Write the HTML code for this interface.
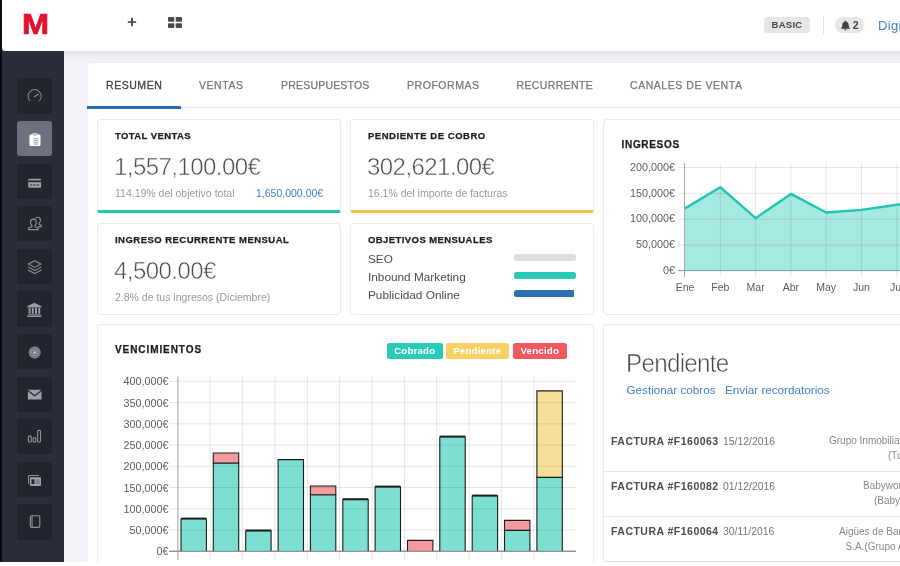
<!DOCTYPE html>
<html lang="es">
<head>
<meta charset="utf-8">
<title>Resumen</title>
<style>
*{box-sizing:border-box;margin:0;padding:0}
html,body{width:900px;height:566px;overflow:hidden;background:#fff}
body{font-family:"Liberation Sans",sans-serif;position:relative;color:#555}
.abs{position:absolute}
#frame{position:absolute;left:0;top:0;width:900px;height:562px;background:#f1f3f8;overflow:hidden}
#edge{position:absolute;left:0;top:0;width:2px;height:562px;background:#0b0c0f}
#side{position:absolute;left:2px;top:0;width:62px;height:562px;background:#292e3a}
.tile{position:absolute;left:14.700px;width:35.300px;height:35.300px;border-radius:3px;background:#21252d}
.tile.on{background:#6c717d}
.tile svg{position:absolute;left:0;top:0;width:35.300px;height:35.300px}
#top{position:absolute;left:2px;top:0;width:898px;height:51px;background:#fff;border-bottom-left-radius:3px}
#shadow{position:absolute;left:64px;top:51px;width:836px;height:8px;background:linear-gradient(#dfe2e9 0,#e6e9ef 35%,#eef0f5 70%,#f1f3f8 100%)}
.pill{position:absolute;background:#e6e6e6;color:#444;font-weight:bold;font-size:9.500px;letter-spacing:.25px;line-height:16px;text-align:center;white-space:nowrap}
#logo{position:absolute;left:19.700px;top:8px;font-weight:bold;font-size:29px;line-height:32px;color:#e2112e;-webkit-text-stroke:.7px #e2112e;transform-origin:0 50%;transform:scaleX(1.12)}
.t{position:absolute;white-space:nowrap;line-height:1}
.h{position:absolute;white-space:nowrap;line-height:1;font-weight:bold;font-size:9.5px;letter-spacing:.45px;color:#1c1c1c;-webkit-text-stroke:.25px #1c1c1c}
#panel{position:absolute;left:87px;top:62px;width:830px;height:520px;background:#fff;border:1px solid #eef0f4;border-radius:4px}
#tabline{position:absolute;left:87px;top:107px;width:813px;height:1px;background:#e6e8ec}
#tabon{position:absolute;left:87px;top:106px;width:94px;height:2.5px;background:#2a6db5}
.tab{position:absolute;top:79.5px;white-space:nowrap;line-height:1;font-size:10.5px;letter-spacing:.55px;color:#777;-webkit-text-stroke:.25px #777}
.tab.on{color:#444;-webkit-text-stroke:.3px #444}
.card{position:absolute;background:#fff;border:1px solid #eaeaec;border-radius:4px}
.big{position:absolute;white-space:nowrap;line-height:1;font-size:24px;color:#4a4a4a;-webkit-text-stroke:.55px #fff;letter-spacing:-.55px}
.sub{position:absolute;white-space:nowrap;line-height:1;font-size:10.5px;color:#999}
.blue{color:#4083c8}
.lg{position:absolute;top:342.700px;height:16px;border-radius:2.500px;color:#fff;font-weight:bold;font-size:9.700px;line-height:16px;text-align:center;white-space:nowrap;letter-spacing:.2px}
.f{position:absolute;left:611px;white-space:nowrap;line-height:1;font-size:10.400px;color:#777;letter-spacing:0}
.f b{color:#4c4c4c;font-size:10.500px;letter-spacing:.48px;margin-right:1.500px}
.r{position:absolute;white-space:nowrap;line-height:1;font-size:10px;color:#888;letter-spacing:0}
</style>
</head>
<body>
<div id="frame">
  <!-- main panel -->
  <div id="panel"></div>
  <div id="tabline"></div>
  <div id="tabon"></div>
  <div class="tab on" style="left:106px">RESUMEN</div>
  <div class="tab" style="left:199px">VENTAS</div>
  <div class="tab" style="left:281px;letter-spacing:.2px">PRESUPUESTOS</div>
  <div class="tab" style="left:407px">PROFORMAS</div>
  <div class="tab" style="left:516.500px;letter-spacing:.36px">RECURRENTE</div>
  <div class="tab" style="left:630px">CANALES DE VENTA</div>

  <!-- card 1 -->
  <div class="card" id="c1" style="left:97px;top:118.500px;width:244px;height:94.500px;border-bottom:3px solid #22c8b3;border-bottom-left-radius:2px;border-bottom-right-radius:2px"></div>
  <!-- card 2 -->
  <div class="card" id="c2" style="left:350px;top:118.500px;width:244px;height:94.500px;border-bottom:3px solid #f5c443;border-bottom-left-radius:2px;border-bottom-right-radius:2px"></div>
  <!-- card 3 -->
  <div class="card" id="c3" style="left:97px;top:222.500px;width:244px;height:92px"></div>
  <!-- card 4 -->
  <div class="card" id="c4" style="left:350px;top:222.500px;width:244px;height:92px"></div>
  <!-- card 5 -->
  <div class="card" id="c5" style="left:603px;top:118.500px;width:310px;height:196px"></div>
  <!-- card 6 -->
  <div class="card" id="c6" style="left:97px;top:324px;width:497px;height:260px"></div>
  <!-- card 7 -->
  <div class="card" id="c7" style="left:603px;top:324px;width:310px;height:237.500px;border-bottom-color:#dedee0"></div>


  <!-- card 1 content -->
  <div class="h" style="left:115px;top:131px;letter-spacing:.41px">TOTAL VENTAS</div>
  <div class="big" style="left:114px;top:155px">1,557,100.00€</div>
  <div class="sub" style="left:115px;top:187.800px">114.19% del objetivo total</div>
  <div class="sub blue" style="left:256px;top:187.800px">1,650,000.00€</div>
  <!-- card 2 content -->
  <div class="h" style="left:368px;top:131px;letter-spacing:.53px">PENDIENTE DE COBRO</div>
  <div class="big" style="left:367px;top:155px">302,621.00€</div>
  <div class="sub" style="left:368px;top:187.800px">16.1% del importe de facturas</div>
  <!-- card 3 content -->
  <div class="h" style="left:115px;top:234.500px;letter-spacing:.47px">INGRESO RECURRENTE MENSUAL</div>
  <div class="big" style="left:114px;top:259px">4,500.00€</div>
  <div class="sub" style="left:115px;top:291.500px">2.8% de tus ingresos (Diciembre)</div>
  <!-- card 4 content -->
  <div class="h" style="left:368px;top:234.500px;letter-spacing:.42px">OBJETIVOS MENSUALES</div>
  <div class="t" style="left:368px;top:253.800px;font-size:11.800px;color:#4d4d4d">SEO</div>
  <div class="t" style="left:368px;top:272px;font-size:11.800px;color:#4d4d4d">Inbound Marketing</div>
  <div class="t" style="left:368px;top:289.500px;font-size:11.800px;color:#4d4d4d">Publicidad Online</div>
  <div class="abs" style="left:514px;top:254px;width:62px;height:7.400px;border-radius:2.500px;background:#dedede"></div>
  <div class="abs" style="left:514px;top:272px;width:62px;height:7.400px;border-radius:2.500px;background:#2bcab6"></div>
  <div class="abs" style="left:514px;top:289.500px;width:60px;height:7.400px;border-radius:2.500px 1px 1px 2.500px;background:#2f6fb3"></div>

  <!-- card 5 content -->
  <svg class="abs" style="left:603px;top:119px" width="297" height="195" viewBox="603 119 297 195" font-family="'Liberation Sans',sans-serif">
    <path d="M684.5 163V277M678 270.5H900" stroke="#a6a6a6" stroke-width="1" fill="none"/>
    <path d="M685.0 208.4 L720.3 187.2 L755.6 218.2 L790.9 193.9 L826.2 212.5 L861.5 209.9 L896.8 204.8 L932.1 198.6 L932.1 271.0 L685.0 271.0Z" fill="#2bcab6" fill-opacity=".42"/>
    <path d="M678 167.5H900 M678 193.4H900 M678 219.2H900 M678 245.1H900 M678 271.0H900 M720.3 163V277 M755.6 163V277 M790.9 163V277 M826.2 163V277 M861.5 163V277 M896.8 163V277 M932.1 163V277" stroke="#000" stroke-opacity=".095" stroke-width="1" fill="none"/>
    <path d="M685.0 208.4 L720.3 187.2 L755.6 218.2 L790.9 193.9 L826.2 212.5 L861.5 209.9 L896.8 204.8 L932.1 198.6" fill="none" stroke="#1fc5b1" stroke-width="2.4" stroke-linejoin="round"/>
    <text x="675" y="170.7" text-anchor="end" font-size="10.800" fill="#5c5c5c">200,000€</text>
    <text x="675" y="196.6" text-anchor="end" font-size="10.800" fill="#5c5c5c">150,000€</text>
    <text x="675" y="222.4" text-anchor="end" font-size="10.800" fill="#5c5c5c">100,000€</text>
    <text x="675" y="248.3" text-anchor="end" font-size="10.800" fill="#5c5c5c">50,000€</text>
    <text x="675" y="274.2" text-anchor="end" font-size="10.800" fill="#5c5c5c">0€</text>
    <text x="685.0" y="291" text-anchor="middle" font-size="10.500" fill="#5c5c5c">Ene</text>
    <text x="720.3" y="291" text-anchor="middle" font-size="10.500" fill="#5c5c5c">Feb</text>
    <text x="755.6" y="291" text-anchor="middle" font-size="10.500" fill="#5c5c5c">Mar</text>
    <text x="790.9" y="291" text-anchor="middle" font-size="10.500" fill="#5c5c5c">Abr</text>
    <text x="826.2" y="291" text-anchor="middle" font-size="10.500" fill="#5c5c5c">May</text>
    <text x="861.5" y="291" text-anchor="middle" font-size="10.500" fill="#5c5c5c">Jun</text>
    <text x="896.8" y="291" text-anchor="middle" font-size="10.500" fill="#5c5c5c">Jul</text>
  </svg>
  <div class="h" style="left:621.500px;top:139.500px;font-size:10px;letter-spacing:.69px">INGRESOS</div>

  <!-- card 6 content -->
  <svg class="abs" style="left:97px;top:324px" width="497" height="238" viewBox="97 324 497 238" font-family="'Liberation Sans',sans-serif">
    <path d="M177.9 376.500V560M169 551.3H576" stroke="#a0a0a0" stroke-width="1" fill="none"/>
    <rect x="181.0" y="519.0" width="25.4" height="32.3" fill="#7cdfd2"/><path d="M181.0 551.3V519.0h25.4V551.3" fill="none" stroke="#1d1d1d" stroke-width="1.100"/>
    <path d="M181.0 518.4h25.4" stroke="#1d1d1d" stroke-width="1.6"/>
    <rect x="213.3" y="463.0" width="25.4" height="88.3" fill="#7cdfd2"/><path d="M213.3 551.3V463.0h25.4V551.3" fill="none" stroke="#1d1d1d" stroke-width="1.100"/>
    <rect x="213.3" y="453.0" width="25.4" height="10.0" fill="#f59b9d"/><path d="M213.3 463.0V453.0h25.4V463.0Z" fill="none" stroke="#1d1d1d" stroke-width="1.100"/>
    <rect x="245.7" y="530.9" width="25.4" height="20.4" fill="#7cdfd2"/><path d="M245.7 551.3V530.9h25.4V551.3" fill="none" stroke="#1d1d1d" stroke-width="1.100"/>
    <path d="M245.7 530.3h25.4" stroke="#1d1d1d" stroke-width="1.6"/>
    <rect x="278.1" y="459.6" width="25.4" height="91.7" fill="#7cdfd2"/><path d="M278.1 551.3V459.6h25.4V551.3" fill="none" stroke="#1d1d1d" stroke-width="1.100"/>
    <rect x="310.4" y="494.8" width="25.4" height="56.5" fill="#7cdfd2"/><path d="M310.4 551.3V494.8h25.4V551.3" fill="none" stroke="#1d1d1d" stroke-width="1.100"/>
    <rect x="310.4" y="486.0" width="25.4" height="8.8" fill="#f59b9d"/><path d="M310.4 494.8V486.0h25.4V494.8Z" fill="none" stroke="#1d1d1d" stroke-width="1.100"/>
    <rect x="342.8" y="499.6" width="25.4" height="51.7" fill="#7cdfd2"/><path d="M342.8 551.3V499.6h25.4V551.3" fill="none" stroke="#1d1d1d" stroke-width="1.100"/>
    <path d="M342.8 499.0h25.4" stroke="#1d1d1d" stroke-width="1.6"/>
    <rect x="375.1" y="487.0" width="25.4" height="64.3" fill="#7cdfd2"/><path d="M375.1 551.3V487.0h25.4V551.3" fill="none" stroke="#1d1d1d" stroke-width="1.100"/>
    <path d="M375.1 486.4h25.4" stroke="#1d1d1d" stroke-width="1.6"/>
    <rect x="407.5" y="540.4" width="25.4" height="10.9" fill="#f59b9d"/><path d="M407.5 551.3V540.4h25.4V551.3" fill="none" stroke="#1d1d1d" stroke-width="1.100"/>
    <rect x="439.8" y="437.0" width="25.4" height="114.3" fill="#7cdfd2"/><path d="M439.8 551.3V437.0h25.4V551.3" fill="none" stroke="#1d1d1d" stroke-width="1.100"/>
    <path d="M439.8 436.4h25.4" stroke="#1d1d1d" stroke-width="1.6"/>
    <rect x="472.2" y="496.0" width="25.4" height="55.3" fill="#7cdfd2"/><path d="M472.2 551.3V496.0h25.4V551.3" fill="none" stroke="#1d1d1d" stroke-width="1.100"/>
    <path d="M472.2 495.4h25.4" stroke="#1d1d1d" stroke-width="1.6"/>
    <rect x="504.5" y="530.4" width="25.4" height="20.9" fill="#7cdfd2"/><path d="M504.5 551.3V530.4h25.4V551.3" fill="none" stroke="#1d1d1d" stroke-width="1.100"/>
    <rect x="504.5" y="520.4" width="25.4" height="10.0" fill="#f59b9d"/><path d="M504.5 530.4V520.4h25.4V530.4Z" fill="none" stroke="#1d1d1d" stroke-width="1.100"/>
    <rect x="536.9" y="477.4" width="25.4" height="73.9" fill="#7cdfd2"/><path d="M536.9 551.3V477.4h25.4V551.3" fill="none" stroke="#1d1d1d" stroke-width="1.100"/>
    <rect x="536.9" y="390.9" width="25.4" height="86.5" fill="#f8de98"/><path d="M536.9 477.4V390.9h25.4V477.4Z" fill="none" stroke="#1d1d1d" stroke-width="1.100"/>
    <path d="M169 381.3H576 M169 402.6H576 M169 423.8H576 M169 445.1H576 M169 466.3H576 M169 487.5H576 M169 508.8H576 M169 530.0H576 M169 551.3H576 M210.2 376.500V560 M242.6 376.500V560 M275.0 376.500V560 M307.3 376.500V560 M339.6 376.500V560 M372.0 376.500V560 M404.4 376.500V560 M436.7 376.500V560 M469.1 376.500V560 M501.4 376.500V560 M533.8 376.500V560" stroke="#000" stroke-opacity=".095" stroke-width="1" fill="none"/>
    <path d="M169 551.3H576" stroke="#8c8c8c" stroke-width="1.100" fill="none"/>
    <text x="168.500" y="385.3" text-anchor="end" font-size="10.800" fill="#5c5c5c">400,000€</text>
    <text x="168.500" y="406.6" text-anchor="end" font-size="10.800" fill="#5c5c5c">350,000€</text>
    <text x="168.500" y="427.8" text-anchor="end" font-size="10.800" fill="#5c5c5c">300,000€</text>
    <text x="168.500" y="449.1" text-anchor="end" font-size="10.800" fill="#5c5c5c">250,000€</text>
    <text x="168.500" y="470.3" text-anchor="end" font-size="10.800" fill="#5c5c5c">200,000€</text>
    <text x="168.500" y="491.5" text-anchor="end" font-size="10.800" fill="#5c5c5c">150,000€</text>
    <text x="168.500" y="512.8" text-anchor="end" font-size="10.800" fill="#5c5c5c">100,000€</text>
    <text x="168.500" y="534.0" text-anchor="end" font-size="10.800" fill="#5c5c5c">50,000€</text>
    <text x="168.500" y="555.3" text-anchor="end" font-size="10.800" fill="#5c5c5c">0€</text>
    <text x="194.1" y="570.500" text-anchor="middle" font-size="10.800" fill="#5c5c5c">Ene</text>
    <text x="226.4" y="570.500" text-anchor="middle" font-size="10.800" fill="#5c5c5c">Feb</text>
    <text x="258.8" y="570.500" text-anchor="middle" font-size="10.800" fill="#5c5c5c">Mar</text>
    <text x="291.1" y="570.500" text-anchor="middle" font-size="10.800" fill="#5c5c5c">Abr</text>
    <text x="323.5" y="570.500" text-anchor="middle" font-size="10.800" fill="#5c5c5c">May</text>
    <text x="355.8" y="570.500" text-anchor="middle" font-size="10.800" fill="#5c5c5c">Jun</text>
    <text x="388.2" y="570.500" text-anchor="middle" font-size="10.800" fill="#5c5c5c">Jul</text>
    <text x="420.5" y="570.500" text-anchor="middle" font-size="10.800" fill="#5c5c5c">Ago</text>
    <text x="452.9" y="570.500" text-anchor="middle" font-size="10.800" fill="#5c5c5c">Sep</text>
    <text x="485.2" y="570.500" text-anchor="middle" font-size="10.800" fill="#5c5c5c">Oct</text>
    <text x="517.6" y="570.500" text-anchor="middle" font-size="10.800" fill="#5c5c5c">Nov</text>
    <text x="549.9" y="570.500" text-anchor="middle" font-size="10.800" fill="#5c5c5c">Dic</text>
  </svg>
  <div class="h" style="left:115px;top:344.800px;font-size:10px;letter-spacing:.92px">VENCIMIENTOS</div>
  <div class="lg" style="left:386.500px;width:56.500px;background:#2bcab6">Cobrado</div>
  <div class="lg" style="left:445.500px;width:63.500px;background:#f6d166">Pendiente</div>
  <div class="lg" style="left:512.500px;width:54.500px;background:#f0595f">Vencido</div>

  <!-- card 7 content -->
  <div class="t" style="left:625.500px;top:351px;font-size:25.500px;color:#444;-webkit-text-stroke:.6px #fff;letter-spacing:-.76px;transform-origin:0 50%;transform:scaleX(.95)">Pendiente</div>
  <div class="t blue" style="left:626.500px;top:384px;font-size:11.700px">Gestionar cobros</div>
  <div class="t blue" style="left:725px;top:384px;font-size:11.700px">Enviar recordatorios</div>
  <div class="abs" style="left:604px;top:470.500px;width:296px;height:1px;background:#e6e6e6"></div>
  <div class="abs" style="left:604px;top:515.500px;width:296px;height:1px;background:#e6e6e6"></div>
  <div class="f" style="top:436px"><b>FACTURA #F160063</b> 15/12/2016</div>
  <div class="f" style="top:481px"><b>FACTURA #F160082</b> 01/12/2016</div>
  <div class="f" style="top:526px"><b>FACTURA #F160064</b> 30/11/2016</div>
  <div class="r" style="left:829px;top:436px">Grupo Inmobiliario Torres</div>
  <div class="r" style="left:888px;top:450.500px">(Turín)</div>
  <div class="r" style="left:863px;top:481px">Babyworld S.L.</div>
  <div class="r" style="left:874px;top:495.500px">(Babyworld)</div>
  <div class="r" style="left:839px;top:526.500px">Aigües de Barcelona</div>
  <div class="r" style="left:845.500px;top:541.500px">S.A.(Grupo Agbar)</div>

  <!-- CONTENT4 -->

  <!-- sidebar + topbar -->
  <div id="shadow"></div>
  <div id="side">
    <div class="tile" style="top:78.4px"><svg viewBox="0 0 35 35"><path d="M12.900 22.600A6.500 6.500 0 1 1 22.100 22.600" fill="none" stroke="#7f8592" stroke-width="1" stroke-linecap="round"/><path d="M17.300 18.600L21 16.200" stroke="#8e94a1" stroke-width="1.200" stroke-linecap="round"/><path d="M17.500 12.700v.8M12.300 18h.8M21.900 18h.8M13.800 14.300l.6.6M21.200 14.300l-.6.6" stroke="#8e94a1" stroke-width=".7" opacity=".7"/></svg></div>
    <div class="tile on" style="top:121.0px"><svg viewBox="0 0 35 35"><rect x="12.300" y="13.400" width="11" height="11.500" rx="1.300" fill="#fff"/><rect x="15.300" y="12.100" width="5" height="2.800" rx="1" fill="#fff"/><rect x="16.200" y="13.100" width="3.200" height="1.400" rx=".5" fill="#8a8f9b"/><path d="M16.200 17.500h5M16.200 19.300h5M16.200 21.100h5M16.200 22.900h5" stroke="#9ea3ae" stroke-width=".9"/><path d="M18.700 16.800v6.800" stroke="#b9bcc5" stroke-width=".8"/></svg></div>
    <div class="tile" style="top:163.6px"><svg viewBox="0 0 35 35"><rect x="11.100" y="14.600" width="12.800" height="8.900" rx="1.200" fill="#9aa0ac"/><rect x="11.100" y="16.300" width="12.800" height="1.700" fill="#21252d"/><path d="M13 20.900h2.200M16.300 20.900h2.200M19.600 20.900h2.200" stroke="#21252d" stroke-width="1"/></svg></div>
    <div class="tile" style="top:206.2px"><svg viewBox="0 0 35 35"><g fill="none" stroke="#8e94a1" stroke-width="1.100" stroke-linejoin="round"><path d="M18.300 12.500c.5-.9 1.400-1.300 2.300-1.300 1.600 0 2.600 1.300 2.600 3 0 1.300-.5 2.400-1.300 3v.9l2.100.9v1.500h-3"/><path d="M16.200 13c-1.700 0-2.800 1.400-2.800 3.200 0 1.400.6 2.500 1.400 3.100v1l-3.200 1.400v1.700h9.400v-1.700l-3.200-1.400v-1c.8-.6 1.400-1.700 1.400-3.100 0-1.800-1.200-3.200-3-3.200z"/></g></svg></div>
    <div class="tile" style="top:248.8px"><svg viewBox="0 0 35 35"><g fill="none" stroke="#8e94a1" stroke-width="1.050" stroke-linejoin="round" stroke-linecap="round"><path d="M17.500 11.600l6.200 3.300-6.200 3.300-6.200-3.300z"/><path d="M11.300 18l6.200 3.300 6.200-3.300"/><path d="M11.300 21l6.200 3.300 6.200-3.300"/></g></svg></div>
    <div class="tile" style="top:291.4px"><svg viewBox="0 0 35 35"><g fill="#9aa0ac"><path d="M17.200 11.600l7 3.600v1.100h-14v-1.100z"/><rect x="11.500" y="17" width="1.900" height="5.600"/><rect x="14.700" y="17" width="1.900" height="5.600"/><rect x="17.900" y="17" width="1.900" height="5.600"/><rect x="21.100" y="17" width="1.900" height="5.600"/><rect x="10.800" y="23.200" width="12.900" height="1"/><rect x="10.100" y="24.500" width="14.300" height="1.200"/></g></svg></div>
    <div class="tile" style="top:334.0px"><svg viewBox="0 0 35 35"><circle cx="17.500" cy="18.300" r="5.900" fill="#6c727f"/><circle cx="17.500" cy="18.300" r="5.400" fill="none" stroke="#858b98" stroke-width=".9"/><circle cx="17.500" cy="18.300" r="3.300" fill="none" stroke="#a0a6b2" stroke-width=".8"/><circle cx="17.500" cy="18.300" r="1.300" fill="#c4c8d0"/></svg></div>
    <div class="tile" style="top:376.6px"><svg viewBox="0 0 35 35"><path d="M10.800 12.600h13.500l-6.750 5.300z" fill="#9aa0ac"/><path d="M10.800 14.100l6.750 5.300 6.750-5.300v8.300h-13.500z" fill="#9aa0ac"/></svg></div>
    <div class="tile" style="top:419.2px"><svg viewBox="0 0 35 35"><g fill="none" stroke="#8e94a1" stroke-width="1.050"><rect x="11.300" y="17" width="2.800" height="5.900" rx=".9"/><rect x="15.900" y="18.600" width="2.800" height="4.300" rx=".9"/><rect x="20.500" y="11.300" width="2.800" height="11.600" rx=".9"/></g></svg></div>
    <div class="tile" style="top:461.8px"><svg viewBox="0 0 35 35"><path d="M11.400 21.500v-7.200c0-.5.300-.8.800-.8h9.500" fill="none" stroke="#8e94a1" stroke-width="1"/><rect x="12.800" y="15" width="11" height="8.800" rx=".9" fill="#9aa0ac"/><rect x="14.300" y="17.200" width="3" height="4.600" fill="#21252d"/><rect x="18.600" y="17.200" width="3.700" height="4.600" fill="#7b818d"/></svg></div>
    <div class="tile" style="top:504.4px"><svg viewBox="0 0 35 35"><rect x="13.400" y="11.700" width="9.200" height="11.500" rx="1.300" fill="none" stroke="#8e94a1" stroke-width="1.100"/><path d="M15 11.700v11.500" stroke="#8e94a1" stroke-width=".9"/><path d="M12.500 14h1M12.500 16.300h1M12.500 18.600h1M12.500 20.900h1" stroke="#8e94a1" stroke-width=".8"/></svg></div>
  </div>
  <div id="top">
    <div id="logo">M</div>
    <svg class="abs" style="left:124px;top:15.800px" width="12" height="12" viewBox="0 0 12 12"><path d="M6 1.8V10.2M1.8 6H10.2" stroke="#3d3d3d" stroke-width="1.7" fill="none"/></svg>
    <svg class="abs" style="left:165px;top:16px" width="16" height="13" viewBox="0 0 16 13"><g fill="#4a4a4a"><rect x="1" y="1" width="6.3" height="4.8" rx="1"/><rect x="8.7" y="1" width="6.3" height="4.8" rx="1"/><rect x="1" y="7.2" width="6.3" height="4.8" rx="1"/><rect x="8.7" y="7.2" width="6.3" height="4.8" rx="1"/></g></svg>
    <div class="pill" style="left:762px;top:17px;width:46px;height:16px;border-radius:3px">BASIC</div>
    <div class="abs" style="left:821px;top:16px;width:1px;height:18px;background:#e3e3e3"></div>
    <div class="pill" style="left:833px;top:17px;width:29px;height:16px;border-radius:8px"></div>
    <svg class="abs" style="left:838px;top:19.5px" width="11" height="11" viewBox="0 0 11 11"><path d="M5.5 0.6c.5 0 .8.3.8.8v.3c1.6.4 2.4 1.700 2.400 3.300 0 1.600.500 2.500 1.300 3.200v.600H1v-.600c.8-.700 1.300-1.600 1.300-3.200 0-1.600.8-2.900 2.400-3.300v-.3c0-.5.3-.8.8-.8zM4.300 9.300h2.400c0 .700-.5 1.200-1.200 1.200s-1.200-.5-1.200-1.200z" fill="#3f3f3f"/></svg>
    <div class="t" style="left:850.700px;top:20px;font-size:10.500px;font-weight:bold;color:#444">2</div>
    <div class="t blue" style="left:876px;top:18.500px;font-size:13px;letter-spacing:.35px">Digital</div>
  </div>
  <div id="edge"></div>
</div>
</body>
</html>
